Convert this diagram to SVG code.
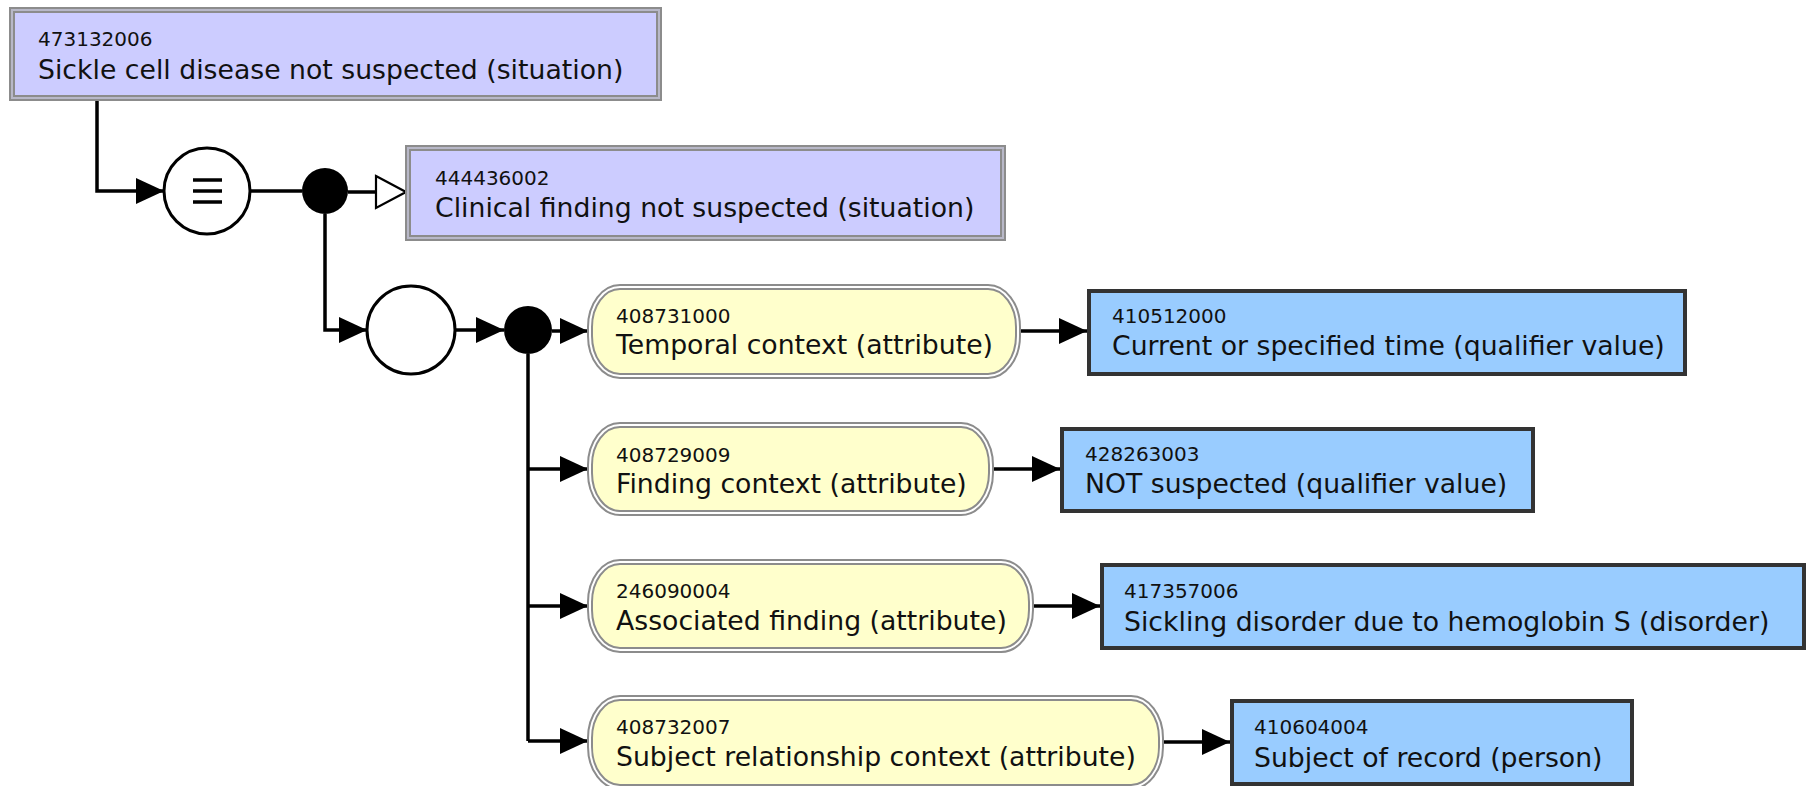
<svg xmlns="http://www.w3.org/2000/svg" width="1808" height="786" viewBox="0 0 1808 786">
  <style>
    text { font-family: "DejaVu Sans", "Liberation Sans", sans-serif; fill: #111; }
    .sctid { font-size: 20px; }
    .term { font-size: 26.7px; }
    .defined-outer { fill: #b8b8c8; stroke: #8c8c8c; stroke-width: 2; }
    .defined-inner { fill: #ccccff; stroke: #8c8c8c; stroke-width: 2; }
    .attr-outer { fill: #ffffff; stroke: #8c8c8c; stroke-width: 2; }
    .attr-inner { fill: #ffffcc; stroke: #8c8c8c; stroke-width: 2; }
    .primitive { fill: #99ccff; stroke: #333333; stroke-width: 4; }
    .conn { fill: none; stroke: #000; stroke-width: 3.5; }
    .op { fill: #fff; stroke: #000; stroke-width: 3; }
    .dot { fill: #000; }
  </style>
  <defs>
    <marker id="arrow" viewBox="0 0 28 28" refX="28" refY="14" markerWidth="28" markerHeight="28" markerUnits="userSpaceOnUse" orient="auto">
      <path d="M0 1 L28 14 L0 27 Z" fill="#000"/>
    </marker>
    <marker id="isa" viewBox="0 0 34 36" refX="32" refY="18" markerWidth="34" markerHeight="36" markerUnits="userSpaceOnUse" orient="auto">
      <path d="M2 2 L32 18 L2 34 Z" fill="#fff" stroke="#000" stroke-width="2.2"/>
    </marker>
  </defs>

  <!-- connectors -->
  <g id="connectors">
    <path class="conn" d="M97 100 V191 H164" marker-end="url(#arrow)"/>
    <path class="conn" d="M250 191 H302"/>
    <path class="conn" d="M348 192 H406" marker-end="url(#isa)"/>
    <path class="conn" d="M325 214 V330 H367" marker-end="url(#arrow)"/>
    <path class="conn" d="M455 330 H504" marker-end="url(#arrow)"/>
    <path class="conn" d="M552 331 H588" marker-end="url(#arrow)"/>
    <path class="conn" d="M528 354 V741"/>
    <path class="conn" d="M528 469 H588" marker-end="url(#arrow)"/>
    <path class="conn" d="M528 606 H588" marker-end="url(#arrow)"/>
    <path class="conn" d="M528 741 H588" marker-end="url(#arrow)"/>
    <path class="conn" d="M1020 331 H1087" marker-end="url(#arrow)"/>
    <path class="conn" d="M993 469 H1060" marker-end="url(#arrow)"/>
    <path class="conn" d="M1033 606 H1100" marker-end="url(#arrow)"/>
    <path class="conn" d="M1163 742 H1230" marker-end="url(#arrow)"/>
  </g>

  <!-- focus concept -->
  <g id="c473132006">
    <rect class="defined-outer" x="10" y="8" width="651" height="92"/>
    <rect class="defined-inner" x="14" y="12" width="643" height="84"/>
    <text class="sctid" x="38" y="46">473132006</text>
    <text class="term" x="38" y="79">Sickle cell disease not suspected (situation)</text>
  </g>

  <!-- definition status: equivalent -->
  <g id="equivalence">
    <circle class="op" cx="207" cy="191" r="43"/>
    <line x1="193" y1="180" x2="222" y2="180" stroke="#000" stroke-width="3.5"/>
    <line x1="193" y1="191" x2="222" y2="191" stroke="#000" stroke-width="3.5"/>
    <line x1="193" y1="202" x2="222" y2="202" stroke="#000" stroke-width="3.5"/>
  </g>

  <g id="conjunction1">
    <circle class="dot" cx="325" cy="191" r="23"/>
  </g>

  <g id="c444436002">
    <rect class="defined-outer" x="406" y="146" width="599" height="94"/>
    <rect class="defined-inner" x="410" y="150" width="591" height="86"/>
    <text class="sctid" x="435" y="185">444436002</text>
    <text class="term" x="435" y="217">Clinical finding not suspected (situation)</text>
  </g>

  <!-- attribute group -->
  <g id="group1">
    <circle class="op" cx="411" cy="330" r="44"/>
  </g>

  <g id="conjunction2">
    <circle class="dot" cx="528" cy="330" r="24"/>
  </g>

  <!-- attributes -->
  <g id="a408731000">
    <rect class="attr-outer" x="588" y="285" width="432" height="93" rx="32" ry="42"/>
    <rect class="attr-inner" x="592" y="289" width="424" height="85" rx="28" ry="38"/>
    <text class="sctid" x="616" y="323">408731000</text>
    <text class="term" x="616" y="354">Temporal context (attribute)</text>
  </g>
  <g id="v410512000">
    <rect class="primitive" x="1089" y="291" width="596" height="83"/>
    <text class="sctid" x="1112" y="323">410512000</text>
    <text class="term" x="1112" y="355">Current or specified time (qualifier value)</text>
  </g>

  <g id="a408729009">
    <rect class="attr-outer" x="588" y="423" width="405" height="92" rx="32" ry="42"/>
    <rect class="attr-inner" x="592" y="427" width="397" height="84" rx="28" ry="38"/>
    <text class="sctid" x="616" y="462">408729009</text>
    <text class="term" x="616" y="493">Finding context (attribute)</text>
  </g>
  <g id="v428263003">
    <rect class="primitive" x="1062" y="429" width="471" height="82"/>
    <text class="sctid" x="1085" y="461">428263003</text>
    <text class="term" x="1085" y="493">NOT suspected (qualifier value)</text>
  </g>

  <g id="a246090004">
    <rect class="attr-outer" x="588" y="560" width="445" height="92" rx="32" ry="42"/>
    <rect class="attr-inner" x="592" y="564" width="437" height="84" rx="28" ry="38"/>
    <text class="sctid" x="616" y="598">246090004</text>
    <text class="term" x="616" y="630">Associated finding (attribute)</text>
  </g>
  <g id="v417357006">
    <rect class="primitive" x="1102" y="565" width="702" height="83"/>
    <text class="sctid" x="1124" y="598">417357006</text>
    <text class="term" x="1124" y="631">Sickling disorder due to hemoglobin S (disorder)</text>
  </g>

  <g id="a408732007">
    <rect class="attr-outer" x="588" y="696" width="575" height="93" rx="32" ry="42"/>
    <rect class="attr-inner" x="592" y="700" width="567" height="85" rx="28" ry="38"/>
    <text class="sctid" x="616" y="734">408732007</text>
    <text class="term" x="616" y="766">Subject relationship context (attribute)</text>
  </g>
  <g id="v410604004">
    <rect class="primitive" x="1232" y="701" width="400" height="83"/>
    <text class="sctid" x="1254" y="734">410604004</text>
    <text class="term" x="1254" y="767">Subject of record (person)</text>
  </g>
</svg>
